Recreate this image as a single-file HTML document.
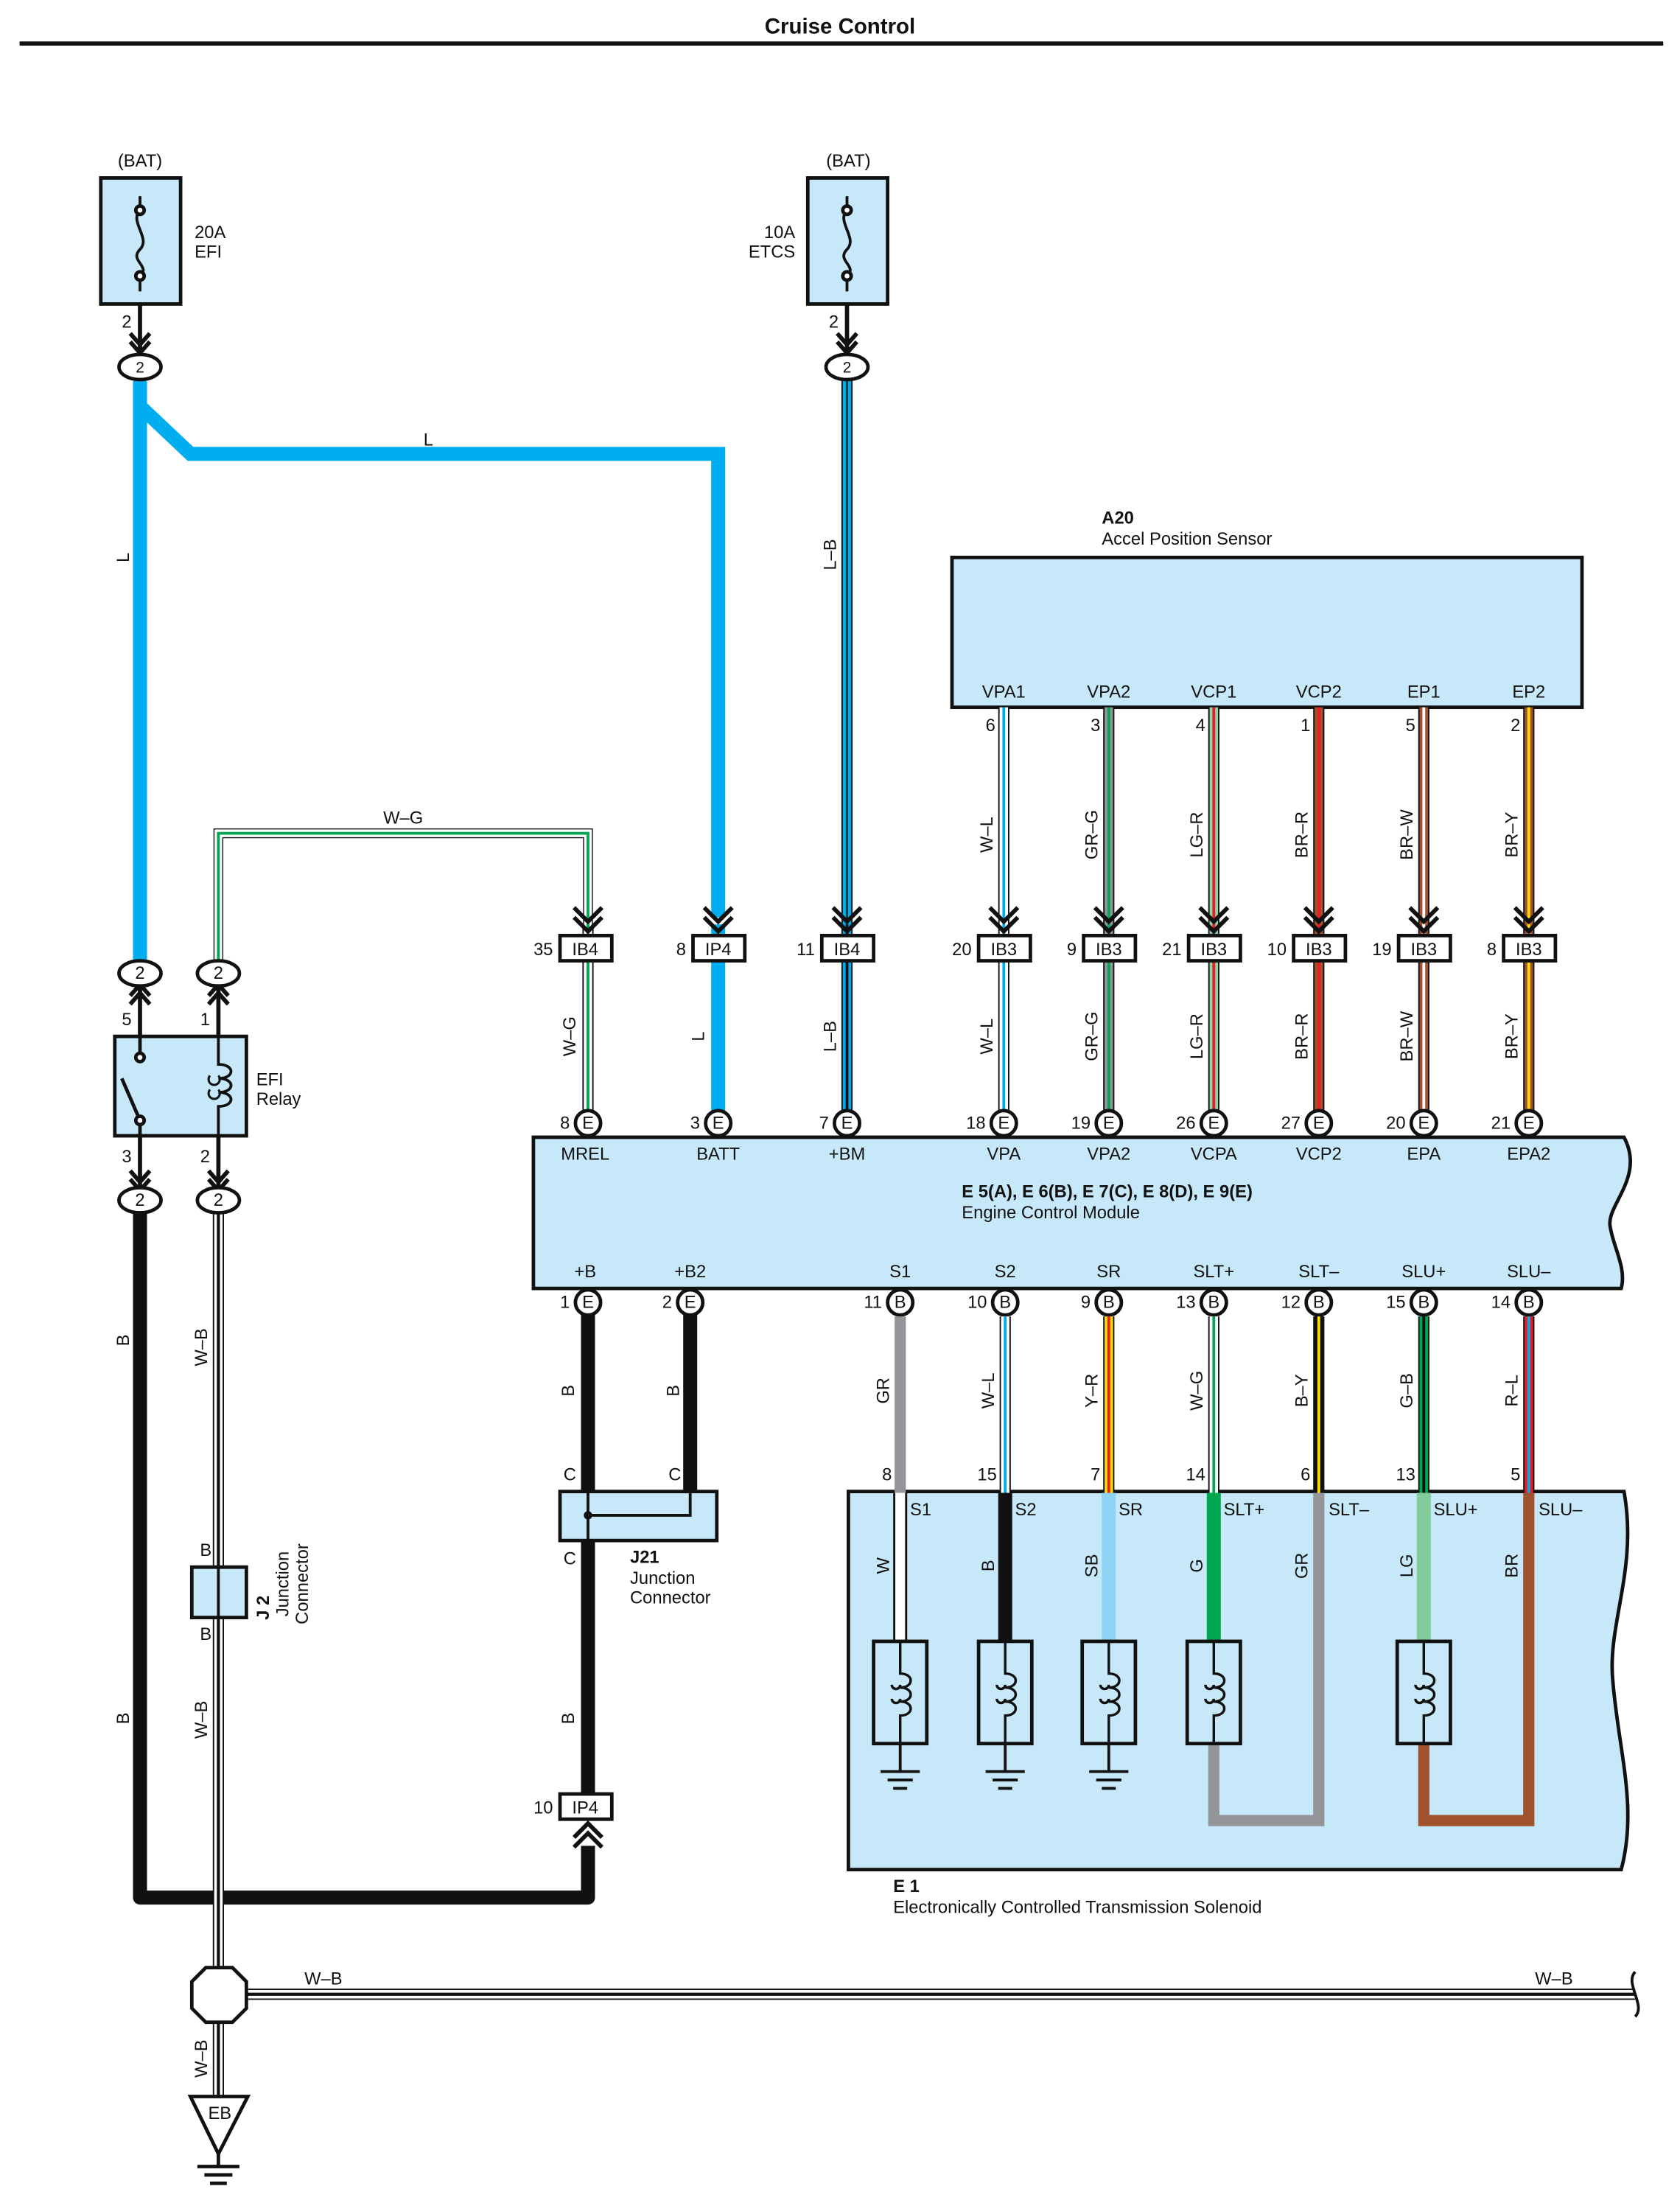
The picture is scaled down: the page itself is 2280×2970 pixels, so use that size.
<!DOCTYPE html>
<html><head><meta charset="utf-8"><style>
html,body{margin:0;padding:0;background:#fff}
svg{display:block}
text{font-family:"Liberation Sans",sans-serif;font-size:12.5px;fill:#111}
.b{font-weight:bold}
.c{text-anchor:middle}
.r{text-anchor:end}
.box{fill:#c6e8f8;stroke:#111;stroke-width:2.5}
.o{fill:#fff;stroke:#111;stroke-width:2.5}
.k{stroke:#111;fill:none}
</style></head><body>
<svg width="2280" height="2970" viewBox="0 0 1200 1563" xmlns="http://www.w3.org/2000/svg">
<text x="600" y="24" class="b c" style="font-size:15.5px">Cruise Control</text>
<line x1="14" y1="31" x2="1188" y2="31" stroke="#111" stroke-width="3"/>

<!-- fuses -->
<text x="100" y="119" class="c">(BAT)</text>
<rect x="72" y="127" width="57" height="90" class="box"/>
<path d="M100 140 V150 C92 158,108 170,100 178 C92 186,108 190,100 197 V208" class="k" stroke-width="2"/>
<circle cx="100" cy="150" r="3" class="o" stroke-width="1.5"/><circle cx="100" cy="197" r="3" class="o" stroke-width="1.5"/>
<text x="139" y="170">20A</text><text x="139" y="184">EFI</text>
<text x="606" y="119" class="c">(BAT)</text>
<rect x="577" y="127" width="57" height="90" class="box"/>
<path d="M605 140 V150 C597 158,613 170,605 178 C597 186,613 190,605 197 V208" class="k" stroke-width="2"/>
<circle cx="605" cy="150" r="3" class="o" stroke-width="1.5"/><circle cx="605" cy="197" r="3" class="o" stroke-width="1.5"/>
<text x="568" y="170" class="r">10A</text><text x="568" y="184" class="r">ETCS</text>
<text x="94" y="234" class="r">2</text><text x="599" y="234" class="r">2</text>
<path d="M100 217 V250 M93 238 L100 246 L107 238 M93 244 L100 252 L107 244" class="k" stroke-width="3"/>
<path d="M605 217 V250 M598 238 L605 246 L612 238 M598 244 L605 252 L612 244" class="k" stroke-width="3"/>

<!-- L wires -->
<path d="M100 272 V688 M100 290 L136 324 H513 V655" stroke="#00aeef" stroke-width="10" fill="none"/>
<text x="306" y="318" class="c">L</text>
<text transform="translate(92,398) rotate(-90)" class="c">L</text>
<line x1="605" y1="272" x2="605" y2="660" stroke="#111" stroke-width="8"/>
<line x1="605" y1="272" x2="605" y2="660" stroke="#00aeef" stroke-width="6"/>
<line x1="605" y1="272" x2="605" y2="660" stroke="#111" stroke-width="1.2"/>
<text transform="translate(597,396) rotate(-90)" class="c">L–B</text>
<ellipse cx="100" cy="262" rx="15" ry="9" class="o"/><text x="100" y="266" class="c" style="font-size:11px">2</text>
<ellipse cx="605" cy="262" rx="15" ry="9" class="o"/><text x="605" y="266" class="c" style="font-size:11px">2</text>

<!-- A20 -->
<text x="787" y="374" class="b">A20</text>
<text x="787" y="389">Accel Position Sensor</text>
<rect x="680" y="398" width="450" height="107" class="box"/>
<g class="c">
<text x="717" y="498">VPA1</text><text x="792" y="498">VPA2</text><text x="867" y="498">VCP1</text>
<text x="942" y="498">VCP2</text><text x="1017" y="498">EP1</text><text x="1092" y="498">EP2</text>
</g>
<g class="r">
<text x="711" y="522">6</text><text x="786" y="522">3</text><text x="861" y="522">4</text>
<text x="936" y="522">1</text><text x="1011" y="522">5</text><text x="1086" y="522">2</text>
</g>

<!-- W-G from relay -->
<path d="M156 690 V595 H420 V660" stroke="#111" stroke-width="7" fill="none"/>
<path d="M156 690 V595 H420 V660" stroke="#fff" stroke-width="5.5" fill="none"/>
<path d="M156 690 V595 H420 V660" stroke="#00a651" stroke-width="2" fill="none"/>
<text x="288" y="588" class="c">W–G</text>

<!-- sensor wires: top and middle -->
<g id="sw">
<g stroke-width="8" stroke="#111"><line x1="717" y1="505" x2="717" y2="795"/><line x1="792" y1="505" x2="792" y2="795"/><line x1="867" y1="505" x2="867" y2="795"/><line x1="942" y1="505" x2="942" y2="795"/><line x1="1017" y1="505" x2="1017" y2="795"/><line x1="1092" y1="505" x2="1092" y2="795"/><line x1="420" y1="660" x2="420" y2="795"/><line x1="605" y1="660" x2="605" y2="795"/></g>
<g stroke-width="6"><line x1="717" y1="505" x2="717" y2="795" stroke="#fff"/><line x1="792" y1="505" x2="792" y2="795" stroke="#939598"/><line x1="867" y1="505" x2="867" y2="795" stroke="#8dd3a6"/><line x1="942" y1="505" x2="942" y2="795" stroke="#a0522d"/><line x1="1017" y1="505" x2="1017" y2="795" stroke="#a0522d"/><line x1="1092" y1="505" x2="1092" y2="795" stroke="#a0522d"/><line x1="420" y1="660" x2="420" y2="795" stroke="#fff"/><line x1="605" y1="660" x2="605" y2="795" stroke="#00aeef"/></g>
<g stroke-width="2"><line x1="717" y1="505" x2="717" y2="795" stroke="#00aeef"/><line x1="792" y1="505" x2="792" y2="795" stroke="#00a651"/><line x1="867" y1="505" x2="867" y2="795" stroke="#ed1c24"/><line x1="942" y1="505" x2="942" y2="795" stroke="#ed1c24"/><line x1="1017" y1="505" x2="1017" y2="795" stroke="#fff"/><line x1="1092" y1="505" x2="1092" y2="795" stroke="#ffde00"/><line x1="420" y1="660" x2="420" y2="795" stroke="#00a651"/><line x1="605" y1="660" x2="605" y2="795" stroke="#111"/></g>
</g>
<line x1="513" y1="660" x2="513" y2="795" stroke="#00aeef" stroke-width="10"/>
<g>
<text transform="translate(709,596) rotate(-90)" class="c">W–L</text><text transform="translate(784,596) rotate(-90)" class="c">GR–G</text><text transform="translate(859,596) rotate(-90)" class="c">LG–R</text><text transform="translate(934,596) rotate(-90)" class="c">BR–R</text><text transform="translate(1009,596) rotate(-90)" class="c">BR–W</text><text transform="translate(1084,596) rotate(-90)" class="c">BR–Y</text>
<text transform="translate(709,740) rotate(-90)" class="c">W–L</text><text transform="translate(784,740) rotate(-90)" class="c">GR–G</text><text transform="translate(859,740) rotate(-90)" class="c">LG–R</text><text transform="translate(934,740) rotate(-90)" class="c">BR–R</text><text transform="translate(1009,740) rotate(-90)" class="c">BR–W</text><text transform="translate(1084,740) rotate(-90)" class="c">BR–Y</text>
<text transform="translate(411,740) rotate(-90)" class="c">W–G</text><text transform="translate(503,740) rotate(-90)" class="c">L</text><text transform="translate(597,740) rotate(-90)" class="c">L–B</text>
</g>
<!-- chevrons + IB boxes -->
<g class="k" stroke-width="3">
<path d="M410 648 L420 658 L430 648 M410 655 L420 665 L430 655"/>
<path d="M503 648 L513 658 L523 648 M503 655 L513 665 L523 655"/>
<path d="M595 648 L605 658 L615 648 M595 655 L605 665 L615 655"/>
<path d="M707 648 L717 658 L727 648 M707 655 L717 665 L727 655"/>
<path d="M782 648 L792 658 L802 648 M782 655 L792 665 L802 655"/>
<path d="M857 648 L867 658 L877 648 M857 655 L867 665 L877 655"/>
<path d="M932 648 L942 658 L952 648 M932 655 L942 665 L952 655"/>
<path d="M1007 648 L1017 658 L1027 648 M1007 655 L1017 665 L1027 655"/>
<path d="M1082 648 L1092 658 L1102 648 M1082 655 L1092 665 L1102 655"/>
</g>
<g class="o">
<rect x="400" y="668" width="37" height="18"/><rect x="495" y="668" width="37" height="18"/><rect x="587" y="668" width="37" height="18"/>
<rect x="699" y="668" width="37" height="18"/><rect x="774" y="668" width="37" height="18"/><rect x="849" y="668" width="37" height="18"/>
<rect x="924" y="668" width="37" height="18"/><rect x="999" y="668" width="37" height="18"/><rect x="1074" y="668" width="37" height="18"/>
</g>
<g class="c">
<text x="418" y="682">IB4</text><text x="513" y="682">IP4</text><text x="605" y="682">IB4</text>
<text x="717" y="682">IB3</text><text x="792" y="682">IB3</text><text x="867" y="682">IB3</text>
<text x="942" y="682">IB3</text><text x="1017" y="682">IB3</text><text x="1092" y="682">IB3</text>
</g>
<g class="r">
<text x="395" y="682">35</text><text x="490" y="682">8</text><text x="582" y="682">11</text>
<text x="694" y="682">20</text><text x="769" y="682">9</text><text x="844" y="682">21</text>
<text x="919" y="682">10</text><text x="994" y="682">19</text><text x="1069" y="682">8</text>
</g>

<!-- bottom-left black loop -->
<path d="M100 865 V1355 H420 V1318" stroke="#111" stroke-width="10" fill="none" stroke-linejoin="round"/>
<line x1="420" y1="935" x2="420" y2="1282" stroke="#111" stroke-width="10"/>
<line x1="493" y1="935" x2="493" y2="1082" stroke="#111" stroke-width="10"/>
<text transform="translate(92,957) rotate(-90)" class="c">B</text>
<text transform="translate(92,1227) rotate(-90)" class="c">B</text>
<text transform="translate(410,993) rotate(-90)" class="c">B</text>
<text transform="translate(485,993) rotate(-90)" class="c">B</text>
<text transform="translate(410,1227) rotate(-90)" class="c">B</text>

<!-- W-B wires -->
<path d="M156 865 V1505 M176 1424 H1168" stroke="#111" stroke-width="8" fill="none"/>
<path d="M156 865 V1505 M176 1424 H1168" stroke="#fff" stroke-width="6" fill="none"/>
<path d="M156 865 V1505 M176 1424 H1168" stroke="#111" stroke-width="2.2" fill="none"/>
<path d="M1168 1408 C1160 1416,1176 1432,1168 1440" stroke="#111" stroke-width="2" fill="none"/>
<text transform="translate(148,962) rotate(-90)" class="c">W–B</text>
<text transform="translate(148,1228) rotate(-90)" class="c">W–B</text>
<text transform="translate(148,1470) rotate(-90)" class="c">W–B</text>
<text x="231" y="1417" class="c">W–B</text><text x="1110" y="1417" class="c">W–B</text>
<path d="M147 1405 H166 L176 1415 V1434 L166 1444 H147 L137 1434 V1415 Z" class="o" stroke-width="3"/>
<path d="M136 1497 H177 L156 1538 Z" class="o" stroke-width="3"/>
<text x="157" y="1513" class="c">EB</text>
<path d="M156 1538 V1547 M141 1547 H171 M146 1553 H166 M150 1559 H162" class="k" stroke-width="2.5"/>

<!-- J2 -->
<rect x="137" y="1119" width="39" height="36" class="box"/>
<line x1="156" y1="1119" x2="156" y2="1155" stroke="#111" stroke-width="2"/>
<text x="147" y="1111" class="c">B</text><text x="147" y="1171" class="c">B</text>
<text transform="translate(192,1148) rotate(-90)" class="b c">J 2</text>
<text transform="translate(206,1131) rotate(-90)" class="c">Junction</text>
<text transform="translate(220,1131) rotate(-90)" class="c">Connector</text>

<!-- relay -->
<line x1="100" y1="700" x2="100" y2="850" stroke="#111" stroke-width="3"/>
<line x1="156" y1="700" x2="156" y2="850" stroke="#111" stroke-width="3"/>
<rect x="82" y="740" width="94" height="71" class="box"/>
<line x1="100" y1="740" x2="100" y2="755" stroke="#111" stroke-width="2.5"/>
<line x1="100" y1="811" x2="100" y2="796" stroke="#111" stroke-width="2.5"/>
<line x1="87" y1="770" x2="100" y2="800" stroke="#111" stroke-width="2.5"/>
<circle cx="100" cy="755" r="3" class="o" stroke-width="1.5"/><circle cx="100" cy="800" r="3" class="o" stroke-width="1.5"/>
<path d="M156 740 V760 C168 760,168 770,156 770 C168 770,168 780,156 780 C168 780,168 790,156 790 V811" class="k" stroke-width="2"/>
<path d="M150 768 A4 4 0 1 0 156 768 M150 778 A4 4 0 1 0 156 778" class="k" stroke-width="1.6"/>
<line x1="100" y1="740" x2="100" y2="755" stroke="#c6e8f8" stroke-width="0"/>
<text x="183" y="775">EFI</text><text x="183" y="789">Relay</text>
<g class="k" stroke-width="3"><path d="M93 717 L100 709 L107 717 M93 711 L100 703 L107 711"/><path d="M149 717 L156 709 L163 717 M149 711 L156 703 L163 711"/>
<path d="M93 836 L100 844 L107 836 M93 842 L100 850 L107 842"/><path d="M149 836 L156 844 L163 836 M149 842 L156 850 L163 842"/></g>
<text x="94" y="732" class="r">5</text><text x="150" y="732" class="r">1</text>
<text x="94" y="830" class="r">3</text><text x="150" y="830" class="r">2</text>
<g><ellipse cx="100" cy="695" rx="15" ry="9" class="o"/><ellipse cx="156" cy="695" rx="15" ry="9" class="o"/>
<ellipse cx="100" cy="857" rx="15" ry="9" class="o"/><ellipse cx="156" cy="857" rx="15" ry="9" class="o"/></g>
<g class="c" style="font-size:11px"><text x="100" y="699">2</text><text x="156" y="699">2</text><text x="100" y="861">2</text><text x="156" y="861">2</text></g>

<!-- ECM -->
<path d="M381 812 H1160 C1175 840,1148 860,1150 875 C1152 890,1162 905,1158 920 H381 Z" class="box"/>
<g class="c">
<text x="418" y="828">MREL</text><text x="513" y="828">BATT</text><text x="605" y="828">+BM</text><text x="717" y="828">VPA</text><text x="792" y="828">VPA2</text><text x="867" y="828">VCPA</text><text x="942" y="828">VCP2</text><text x="1017" y="828">EPA</text><text x="1092" y="828">EPA2</text>
<text x="418" y="912">+B</text><text x="493" y="912">+B2</text><text x="643" y="912">S1</text><text x="718" y="912">S2</text><text x="792" y="912">SR</text><text x="867" y="912">SLT+</text><text x="942" y="912">SLT–</text><text x="1017" y="912">SLU+</text><text x="1092" y="912">SLU–</text>
</g>
<text x="687" y="855" class="b">E 5(A), E 6(B), E 7(C), E 8(D), E 9(E)</text>
<text x="687" y="870">Engine Control Module</text>
<g class="o">
<circle cx="420" cy="802" r="9"/><circle cx="513" cy="802" r="9"/><circle cx="605" cy="802" r="9"/><circle cx="717" cy="802" r="9"/><circle cx="792" cy="802" r="9"/><circle cx="867" cy="802" r="9"/><circle cx="942" cy="802" r="9"/><circle cx="1017" cy="802" r="9"/><circle cx="1092" cy="802" r="9"/>
<circle cx="420" cy="930" r="9"/><circle cx="493" cy="930" r="9"/><circle cx="643" cy="930" r="9"/><circle cx="718" cy="930" r="9"/><circle cx="792" cy="930" r="9"/><circle cx="867" cy="930" r="9"/><circle cx="942" cy="930" r="9"/><circle cx="1017" cy="930" r="9"/><circle cx="1092" cy="930" r="9"/>
</g>
<g class="c" style="font-size:11px">
<text x="420" y="806">E</text><text x="513" y="806">E</text><text x="605" y="806">E</text><text x="717" y="806">E</text><text x="792" y="806">E</text><text x="867" y="806">E</text><text x="942" y="806">E</text><text x="1017" y="806">E</text><text x="1092" y="806">E</text>
<text x="420" y="934">E</text><text x="493" y="934">E</text><text x="643" y="934">B</text><text x="718" y="934">B</text><text x="792" y="934">B</text><text x="867" y="934">B</text><text x="942" y="934">B</text><text x="1017" y="934">B</text><text x="1092" y="934">B</text>
</g>
<g class="r">
<text x="407" y="806">8</text><text x="500" y="806">3</text><text x="592" y="806">7</text><text x="704" y="806">18</text><text x="779" y="806">19</text><text x="854" y="806">26</text><text x="929" y="806">27</text><text x="1004" y="806">20</text><text x="1079" y="806">21</text>
<text x="407" y="934">1</text><text x="480" y="934">2</text><text x="630" y="934">11</text><text x="705" y="934">10</text><text x="779" y="934">9</text><text x="854" y="934">13</text><text x="929" y="934">12</text><text x="1004" y="934">15</text><text x="1079" y="934">14</text>
</g>

<!-- J21 -->
<rect x="400" y="1065" width="112" height="35" class="box"/>
<path d="M420 1065 V1100 M420 1082 H493 V1065" class="k" stroke-width="2"/>
<circle cx="420" cy="1082" r="3" fill="#111"/>
<text x="407" y="1057" class="c">C</text><text x="482" y="1057" class="c">C</text><text x="407" y="1117" class="c">C</text>
<text x="450" y="1116" class="b">J21</text><text x="450" y="1131">Junction</text><text x="450" y="1145">Connector</text>
<rect x="400" y="1281" width="37" height="18" class="o"/><text x="418" y="1295" class="c">IP4</text><text x="395" y="1295" class="r">10</text>
<path d="M410 1312 L420 1302 L430 1312 M410 1319 L420 1309 L430 1319" class="k" stroke-width="3"/>

<!-- E1 -->
<path d="M606 1065 H1160 C1170 1120,1148 1160,1152 1200 C1156 1250,1170 1290,1158 1335 H606 Z" class="box"/>
<!-- ECM->E1 wires -->
<line x1="643" y1="940" x2="643" y2="1066" stroke="#939598" stroke-width="8"/>
<g stroke-width="8" stroke="#111"><line x1="718" y1="940" x2="718" y2="1066"/><line x1="792" y1="940" x2="792" y2="1066"/><line x1="867" y1="940" x2="867" y2="1066"/><line x1="942" y1="940" x2="942" y2="1066"/><line x1="1017" y1="940" x2="1017" y2="1066"/><line x1="1092" y1="940" x2="1092" y2="1066"/></g>
<g stroke-width="6"><line x1="718" y1="940" x2="718" y2="1066" stroke="#fff"/><line x1="792" y1="940" x2="792" y2="1066" stroke="#ffde00"/><line x1="867" y1="940" x2="867" y2="1066" stroke="#fff"/><line x1="942" y1="940" x2="942" y2="1066" stroke="#111"/><line x1="1017" y1="940" x2="1017" y2="1066" stroke="#00a651"/><line x1="1092" y1="940" x2="1092" y2="1066" stroke="#ed1c24"/></g>
<g stroke-width="2"><line x1="718" y1="940" x2="718" y2="1066" stroke="#00aeef"/><line x1="792" y1="940" x2="792" y2="1066" stroke="#ed1c24"/><line x1="867" y1="940" x2="867" y2="1066" stroke="#00a651"/><line x1="942" y1="940" x2="942" y2="1066" stroke="#ffde00"/><line x1="1017" y1="940" x2="1017" y2="1066" stroke="#111"/><line x1="1092" y1="940" x2="1092" y2="1066" stroke="#00aeef"/></g>
<g>
<text transform="translate(635,993) rotate(-90)" class="c">GR</text><text transform="translate(710,993) rotate(-90)" class="c">W–L</text><text transform="translate(784,993) rotate(-90)" class="c">Y–R</text><text transform="translate(859,993) rotate(-90)" class="c">W–G</text><text transform="translate(934,993) rotate(-90)" class="c">B–Y</text><text transform="translate(1009,993) rotate(-90)" class="c">G–B</text><text transform="translate(1084,993) rotate(-90)" class="c">R–L</text>
</g>
<g class="r"><text x="637" y="1057">8</text><text x="712" y="1057">15</text><text x="786" y="1057">7</text><text x="861" y="1057">14</text><text x="936" y="1057">6</text><text x="1011" y="1057">13</text><text x="1086" y="1057">5</text></g>
<!-- inside E1 -->
<line x1="643" y1="1066" x2="643" y2="1172" stroke="#111" stroke-width="10"/>
<line x1="643" y1="1066" x2="643" y2="1172" stroke="#fff" stroke-width="7"/>
<line x1="718" y1="1066" x2="718" y2="1172" stroke="#111" stroke-width="10"/>
<line x1="792" y1="1066" x2="792" y2="1172" stroke="#8dd3f5" stroke-width="10"/>
<line x1="867" y1="1066" x2="867" y2="1172" stroke="#00a651" stroke-width="10"/>
<path d="M867 1245 V1300 H942 V1066" stroke="#939598" stroke-width="8" fill="none"/>
<line x1="1017" y1="1066" x2="1017" y2="1172" stroke="#7fcc98" stroke-width="10"/>
<path d="M1017 1245 V1300 H1092 V1066" stroke="#a0522d" stroke-width="8" fill="none"/>
<g><text x="650" y="1082">S1</text><text x="725" y="1082">S2</text><text x="799" y="1082">SR</text><text x="874" y="1082">SLT+</text><text x="949" y="1082">SLT–</text><text x="1024" y="1082">SLU+</text><text x="1099" y="1082">SLU–</text></g>
<g>
<text transform="translate(635,1118) rotate(-90)" class="c">W</text><text transform="translate(710,1118) rotate(-90)" class="c">B</text><text transform="translate(784,1118) rotate(-90)" class="c">SB</text><text transform="translate(859,1118) rotate(-90)" class="c">G</text><text transform="translate(934,1118) rotate(-90)" class="c">GR</text><text transform="translate(1009,1118) rotate(-90)" class="c">LG</text><text transform="translate(1084,1118) rotate(-90)" class="c">BR</text>
</g>
<!-- solenoids -->
<g fill="none" stroke="#111" stroke-width="2.5">
<rect x="624" y="1172" width="38" height="73"/><rect x="699" y="1172" width="38" height="73"/><rect x="773" y="1172" width="38" height="73"/><rect x="848" y="1172" width="38" height="73"/><rect x="998" y="1172" width="38" height="73"/>
</g>
<g fill="none" stroke="#111" stroke-width="1.8">
<path d="M643 1172 V1195 C653 1195,653 1205,643 1205 C653 1205,653 1215,643 1215 C653 1215,653 1225,643 1225 V1245 M637 1203 a3 3 0 1 0 6 0 M637 1213 a3 3 0 1 0 6 0"/>
<path d="M718 1172 V1195 C728 1195,728 1205,718 1205 C728 1205,728 1215,718 1215 C728 1215,728 1225,718 1225 V1245 M712 1203 a3 3 0 1 0 6 0 M712 1213 a3 3 0 1 0 6 0"/>
<path d="M792 1172 V1195 C802 1195,802 1205,792 1205 C802 1205,802 1215,792 1215 C802 1215,802 1225,792 1225 V1245 M786 1203 a3 3 0 1 0 6 0 M786 1213 a3 3 0 1 0 6 0"/>
<path d="M867 1172 V1195 C877 1195,877 1205,867 1205 C877 1205,877 1215,867 1215 C877 1215,877 1225,867 1225 V1245 M861 1203 a3 3 0 1 0 6 0 M861 1213 a3 3 0 1 0 6 0"/>
<path d="M1017 1172 V1195 C1027 1195,1027 1205,1017 1205 C1027 1205,1027 1215,1017 1215 C1027 1215,1027 1225,1017 1225 V1245 M1011 1203 a3 3 0 1 0 6 0 M1011 1213 a3 3 0 1 0 6 0"/>
</g>
<g stroke="#111" stroke-width="2">
<path d="M643 1245 V1265 M629 1265 H657 M634 1271 H652 M638 1277 H648"/>
<path d="M718 1245 V1265 M704 1265 H732 M709 1271 H727 M713 1277 H723"/>
<path d="M792 1245 V1265 M778 1265 H806 M783 1271 H801 M787 1277 H797"/>
</g>
<text x="638" y="1351" class="b">E 1</text>
<text x="638" y="1366">Electronically Controlled Transmission Solenoid</text>
</svg>
</body></html>
